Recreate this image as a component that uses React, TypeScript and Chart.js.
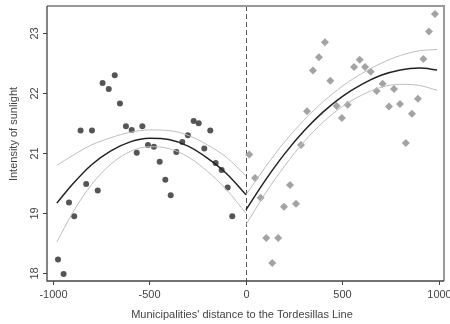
import React, { useEffect, useRef } from "react";
import { Chart, registerables } from "chart.js";

Chart.register(...registerables);

// Axis ticks (y positions are in tick steps; labels as printed on the original axis)
const xTickValues = [-1000, -500, 0, 500, 1000];
const yTickPositions = [0, 1, 2, 3, 4];
const yTickLabels = ["18", "19", "21", "22", "23"];

// Municipalities west of the line (circles)
const westX = [-857, -798, -743, -711, -680, -653, -622, -592, -537, -271, -245, -185, -301, -330, -508, -477, -566, -361, -216, -447, -157, -126, -828, -768, -418, -390, -95, -917, -890, -71, -974, -945];
const westY = [2.38, 2.38, 3.17, 3.07, 3.3, 2.83, 2.45, 2.39, 2.45, 2.54, 2.5, 2.38, 2.3, 2.19, 2.14, 2.11, 2.01, 2.02, 2.08, 1.86, 1.84, 1.72, 1.49, 1.38, 1.56, 1.3, 1.43, 1.18, 0.95, 0.95, 0.23, -0.01];

// Municipalities east of the line (diamonds)
const eastX = [979, 948, 409, 378, 347, 589, 560, 617, 646, 919, 437, 677, 708, 767, 891, 741, 798, 860, 316, 470, 527, 497, 285, 828, 17, 47, 228, 76, 259, 197, 105, 167, 136];
const eastY = [4.32, 4.03, 3.85, 3.6, 3.38, 3.56, 3.44, 3.44, 3.36, 3.57, 3.21, 3.04, 3.16, 3.07, 2.91, 2.78, 2.82, 2.66, 2.7, 2.79, 2.81, 2.59, 2.14, 2.17, 1.98, 1.59, 1.47, 1.26, 1.16, 1.11, 0.59, 0.59, 0.17];

// Fitted curves and confidence bands
const westFitX = [-980, -900, -800, -700, -600, -500, -400, -300, -200, -100, 0];
const westFit = [1.17, 1.48, 1.81, 2.04, 2.19, 2.25, 2.23, 2.12, 1.92, 1.66, 1.31];
const westUpper = [1.8, 1.96, 2.14, 2.26, 2.35, 2.39, 2.38, 2.3, 2.14, 1.93, 1.62];
const westLower = [0.52, 1.0, 1.48, 1.82, 2.03, 2.11, 2.08, 1.94, 1.7, 1.39, 1.0];

const eastFitX = [0, 100, 200, 300, 400, 500, 600, 700, 800, 900, 990];
const eastFit = [1.06, 1.55, 1.99, 2.37, 2.69, 2.95, 3.15, 3.3, 3.39, 3.42, 3.39];
const eastUpper = [1.31, 1.77, 2.19, 2.55, 2.86, 3.12, 3.33, 3.5, 3.63, 3.71, 3.73];
const eastLower = [0.81, 1.33, 1.79, 2.19, 2.52, 2.78, 2.97, 3.1, 3.15, 3.13, 3.05];

const xTitle = "Municipalities' distance to the Tordesillas Line";
const yTitle = "Intensity of sunlight";

const pts = (xs: number[], ys: number[]) => xs.map((x, i) => ({ x, y: ys[i] }));

const FONT = '11px "Liberation Sans", Arial, sans-serif';
const TEXT = "#444";

const decorPlugin = {
  id: "decor",
  beforeDatasetsDraw(chart: any) {
    const { ctx, chartArea: ca, scales } = chart;
    const x0 = scales.x.getPixelForValue(0);
    ctx.save();
    ctx.strokeStyle = "#555";
    ctx.lineWidth = 1;
    ctx.setLineDash([5, 3]);
    ctx.beginPath();
    ctx.moveTo(Math.round(x0) + 0.5, ca.top);
    ctx.lineTo(Math.round(x0) + 0.5, ca.bottom);
    ctx.stroke();
    ctx.restore();
  },
  afterDraw(chart: any) {
    const { ctx, chartArea: ca, scales } = chart;
    const xs = scales.x;
    const ys = scales.y;
    ctx.save();
    // frame top/right
    ctx.strokeStyle = "#9a9a9a";
    ctx.lineWidth = 2;
    ctx.beginPath();
    ctx.moveTo(ca.left, ca.top);
    ctx.lineTo(ca.right, ca.top);
    ctx.lineTo(ca.right, ca.bottom);
    ctx.stroke();
    // axes left/bottom
    ctx.strokeStyle = "#444";
    ctx.lineWidth = 1.3;
    ctx.beginPath();
    ctx.moveTo(ca.left, ca.top);
    ctx.lineTo(ca.left, ca.bottom);
    ctx.lineTo(ca.right, ca.bottom);
    ctx.stroke();

    ctx.lineWidth = 1;
    ctx.font = FONT;
    ctx.fillStyle = TEXT;
    // x ticks
    ctx.textAlign = "center";
    ctx.textBaseline = "middle";
    xTickValues.forEach((v) => {
      const px = Math.round(xs.getPixelForValue(v)) + 0.5;
      ctx.beginPath();
      ctx.moveTo(px, ca.bottom);
      ctx.lineTo(px, ca.bottom + 4);
      ctx.stroke();
      ctx.fillText(String(v), px, ca.bottom + 14);
    });
    // y ticks
    yTickPositions.forEach((v, i) => {
      const py = Math.round(ys.getPixelForValue(v)) + 0.5;
      ctx.beginPath();
      ctx.moveTo(ca.left - 4, py);
      ctx.lineTo(ca.left, py);
      ctx.stroke();
      ctx.save();
      ctx.translate(ca.left - 12, py);
      ctx.rotate(-Math.PI / 2);
      ctx.fillText(yTickLabels[i], 0, 0);
      ctx.restore();
    });
    // titles
    ctx.fillText(xTitle, 242, 315);
    ctx.save();
    ctx.translate(14, 134);
    ctx.rotate(-Math.PI / 2);
    ctx.fillText(yTitle, 0, 0);
    ctx.restore();
    ctx.restore();
  },
};

export default function App() {
  const ref = useRef<HTMLCanvasElement | null>(null);

  useEffect(() => {
    if (!ref.current) return;
    const band = (data: any, order: number) => ({
      data,
      showLine: true,
      borderColor: "#bdbdbd",
      borderWidth: 1,
      pointRadius: 0,
      cubicInterpolationMode: "monotone" as const,
      order,
    });
    const fit = (data: any) => ({
      data,
      showLine: true,
      borderColor: "#222",
      borderWidth: 1.5,
      pointRadius: 0,
      cubicInterpolationMode: "monotone" as const,
      order: 0,
    });
    const chart = new Chart(ref.current, {
      type: "scatter",
      data: {
        datasets: [
          fit(pts(westFitX, westFit)),
          fit(pts(eastFitX, eastFit)),
          band(pts(westFitX, westUpper), 1),
          band(pts(westFitX, westLower), 1),
          band(pts(eastFitX, eastUpper), 1),
          band(pts(eastFitX, eastLower), 1),
          {
            data: pts(westX, westY),
            pointStyle: "circle",
            pointRadius: 3,
            backgroundColor: "#555",
            borderColor: "#555",
            borderWidth: 0,
            order: 2,
          },
          {
            data: pts(eastX, eastY),
            pointStyle: "rectRot",
            pointRadius: 4,
            backgroundColor: "#a3a3a3",
            borderColor: "#a3a3a3",
            borderWidth: 0,
            order: 2,
          },
        ],
      },
      options: {
        animation: false,
        responsive: false,
        events: [],
        layout: { padding: { left: 47, right: 6, top: 6, bottom: 43 } },
        plugins: { legend: { display: false }, tooltip: { enabled: false } },
        scales: {
          x: { type: "linear", display: false, min: -1031, max: 1026 },
          y: { type: "linear", display: false, min: -0.128, max: 4.455 },
        },
      },
      plugins: [decorPlugin],
    });
    return () => chart.destroy();
  }, []);

  return (
    <div style={{ position: "absolute", left: 0, top: 0, width: 450, height: 324, background: "#fff" }}>
      <canvas ref={ref} width={450} height={324} style={{ display: "block" }} />
    </div>
  );
}
